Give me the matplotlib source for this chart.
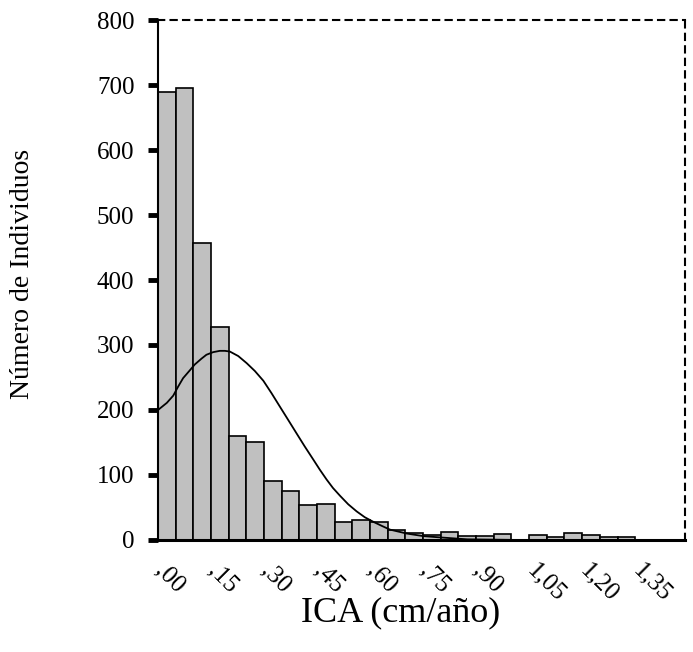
import matplotlib
matplotlib.use("Agg")
import matplotlib.pyplot as plt

# histogram bins (centres every 0.05) and counts
bin_centers = [0.00, 0.05, 0.10, 0.15, 0.20, 0.25, 0.30, 0.35, 0.40, 0.45,
               0.50, 0.55, 0.60, 0.65, 0.70, 0.75, 0.80, 0.85, 0.90, 0.95,
               1.00, 1.05, 1.10, 1.15, 1.20, 1.25, 1.30]
counts = [690, 695, 457, 327, 160, 151, 90, 76, 54, 56,
          28, 30, 28, 15, 11, 8, 12, 6, 6, 9,
          0, 8, 4, 10, 8, 4, 4]

# fitted normal curve
curve_x = [-0.025, 0.0, 0.018, 0.032, 0.046, 0.065, 0.079, 0.098, 0.112,
           0.131, 0.150, 0.164, 0.178, 0.202, 0.226, 0.249, 0.273, 0.296,
           0.320, 0.343, 0.367, 0.390, 0.414, 0.433, 0.452, 0.470, 0.490,
           0.513, 0.537, 0.560, 0.584, 0.607, 0.631, 0.678, 0.725, 0.772,
           0.85, 1.0, 1.46]
curve_y = [200, 211, 222, 236, 249, 261, 270, 279, 285,
           289, 291, 291, 290, 283, 272, 260, 245, 226,
           205, 185, 164, 144, 124, 108, 93, 80, 68,
           55, 44, 35, 28, 22, 16, 10, 6, 4,
           1, 0, 0]

x_ticks = [0.00, 0.15, 0.30, 0.45, 0.60, 0.75, 0.90, 1.05, 1.20, 1.35]
x_labels = [",00", ",15", ",30", ",45", ",60", ",75", ",90", "1,05", "1,20", "1,35"]
y_ticks = [0, 100, 200, 300, 400, 500, 600, 700, 800]

plt.rcParams['font.family'] = ['Liberation Serif', 'DejaVu Serif']

fig = plt.figure(figsize=(6.93, 6.52), dpi=100)
ax = fig.add_axes([0.228, 0.1718, 0.7605, 0.7975])

ax.bar(bin_centers, counts, width=0.05, color="#c0c0c0",
       edgecolor="black", linewidth=1.2, zorder=2)
ax.plot(curve_x, curve_y, color="black", linewidth=1.3, zorder=3)

ax.set_xlim(-0.025, 1.466)
ax.set_ylim(0, 800)

ax.set_yticks(y_ticks)
ax.set_yticklabels([str(v) for v in y_ticks], fontsize=18)
ax.tick_params(axis="y", length=7, width=3.5, pad=10, direction="out")

ax.set_xticks(x_ticks)
ax.set_xticklabels(x_labels, fontsize=18, rotation=-45,
                   ha="left", va="top", rotation_mode="anchor")
ax.tick_params(axis="x", length=0, pad=14)

ax.spines["left"].set_linewidth(1.5)
ax.spines["bottom"].set_linewidth(2.2)
for side in ["top", "right"]:
    ax.spines[side].set_linestyle((0, (3, 3)))
    ax.spines[side].set_linewidth(1.5)

fig.text(0.033, 0.58, "Número de Individuos", rotation=90,
         ha="center", va="center", fontsize=20)
fig.text(0.578, 0.06, "ICA (cm/año)", ha="center", va="center", fontsize=26)

fig.savefig("out.png", dpi=100)
